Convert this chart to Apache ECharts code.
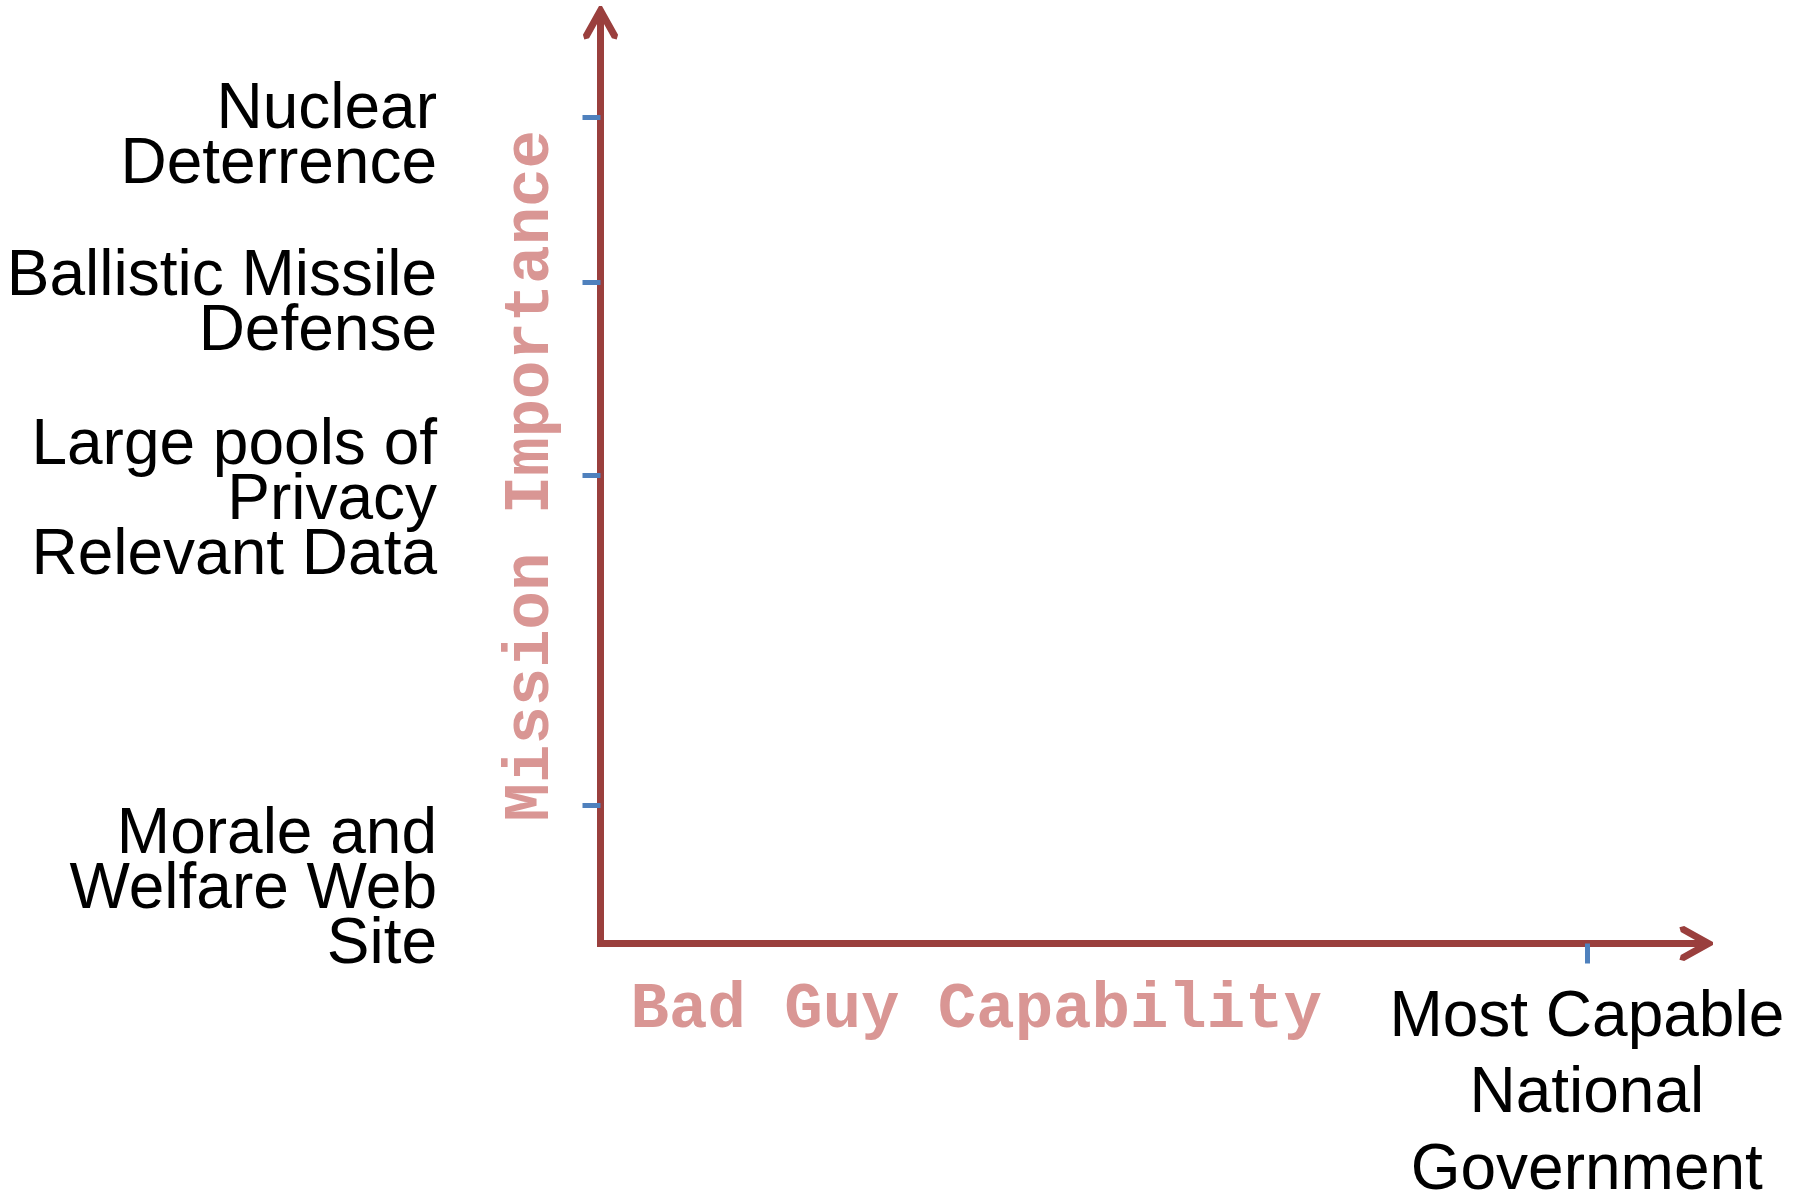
<!DOCTYPE html>
<html>
<head>
<meta charset="utf-8">
<script src="https://cdn.jsdelivr.net/npm/echarts@6/dist/echarts.min.js"></script>
<style>
html,body{margin:0;padding:0;background:#fff;}
#chart{width:1810px;height:1196px;}
</style>
</head>
<body>
<div id="chart"></div>
<script>
// ---- data ----
const yCategories = ['Nuclear\nDeterrence', 'Ballistic Missile\nDefense', 'Large pools of\nPrivacy\nRelevant Data', 'Morale and\nWelfare Web\nSite'];
const yTickValues = [88.9, 71.1, 50.4, 14.9];
const yLabelValues = [86.7, 68.7, 47.6, 5.7];
const xCategories = ['Most Capable\nNational\nGovernment'];
const xTickValues = [89.3];
const xLabelValues = [89.3];
const xAxisName = 'Bad Guy Capability';
const yAxisName = 'Mission Importance';

// ---- style ----
const axisColor = '#9a3f3d';
const tickColor = '#4f81bd';
const nameColor = '#d99694';
const arrowPath = 'path://M16.06,0L19.06,0L35.12,28.8L33.76,33.56L29,32.2L17.56,11.69L6.12,32.2L1.36,33.56L0,28.8Z';

function nearestLabel(values, labels, v) {
  let best = 0, d = Infinity;
  values.forEach((x, i) => { const dd = Math.abs(x - v); if (dd < d) { d = dd; best = i; } });
  return labels[best];
}

const chart = echarts.init(document.getElementById('chart'), null, {renderer: 'canvas'});
chart.setOption({
  animation: false,
  backgroundColor: '#ffffff',
  grid: {left: 600.5, right: 105, top: 14, bottom: 252.5, containLabel: false, outerBoundsMode: 'none'},
  xAxis: [
    {
      type: 'value', min: 0, max: 100, position: 'bottom',
      axisLine: {show: true, symbol: ['none', arrowPath], symbolSize: [35.12, 33.56], symbolOffset: [0, -8.8],
        lineStyle: {color: axisColor, width: 7, cap: 'square'}},
      axisTick: {show: false}, axisLabel: {show: false}, splitLine: {show: false},
      name: xAxisName, nameLocation: 'middle', nameGap: 35,
      nameTextStyle: {fontFamily: 'Liberation Mono', fontWeight: 'bold', fontSize: 64, color: nameColor, padding: [0, 353, 0, 0]}
    },
    {
      type: 'value', min: 0, max: 100, position: 'bottom', offset: 3.5,
      axisLine: {show: false},
      axisTick: {show: true, customValues: xTickValues, length: 20, lineStyle: {color: tickColor, width: 5}},
      axisLabel: {show: true, customValues: xLabelValues, margin: 33,
        formatter: v => nearestLabel(xLabelValues, xCategories, v),
        fontFamily: 'Liberation Sans', fontSize: 64, lineHeight: 76.5, color: '#000', align: 'center'},
      splitLine: {show: false}
    }
  ],
  yAxis: [
    {
      type: 'value', min: 0, max: 100, position: 'left',
      axisLine: {show: true, symbol: ['none', arrowPath], symbolSize: [35.12, 33.56], symbolOffset: [0, -8.78],
        lineStyle: {color: axisColor, width: 7, cap: 'square'}},
      axisTick: {show: false}, axisLabel: {show: false}, splitLine: {show: false},
      name: yAxisName, nameLocation: 'middle', nameGap: 37, nameRotate: 90,
      nameTextStyle: {fontFamily: 'Liberation Mono', fontWeight: 'bold', fontSize: 64, color: nameColor, padding: [0, 0, 0, 6]}
    },
    {
      type: 'value', min: 0, max: 100, position: 'left', offset: 3.5,
      axisLine: {show: false},
      axisTick: {show: true, customValues: yTickValues, length: 18, lineStyle: {color: tickColor, width: 5}},
      axisLabel: {show: true, customValues: yLabelValues, margin: 160,
        formatter: v => nearestLabel(yLabelValues, yCategories, v),
        fontFamily: 'Liberation Sans', fontSize: 64, lineHeight: 55, color: '#000', align: 'right'},
      splitLine: {show: false}
    }
  ],
  series: []
});
</script>
</body>
</html>
